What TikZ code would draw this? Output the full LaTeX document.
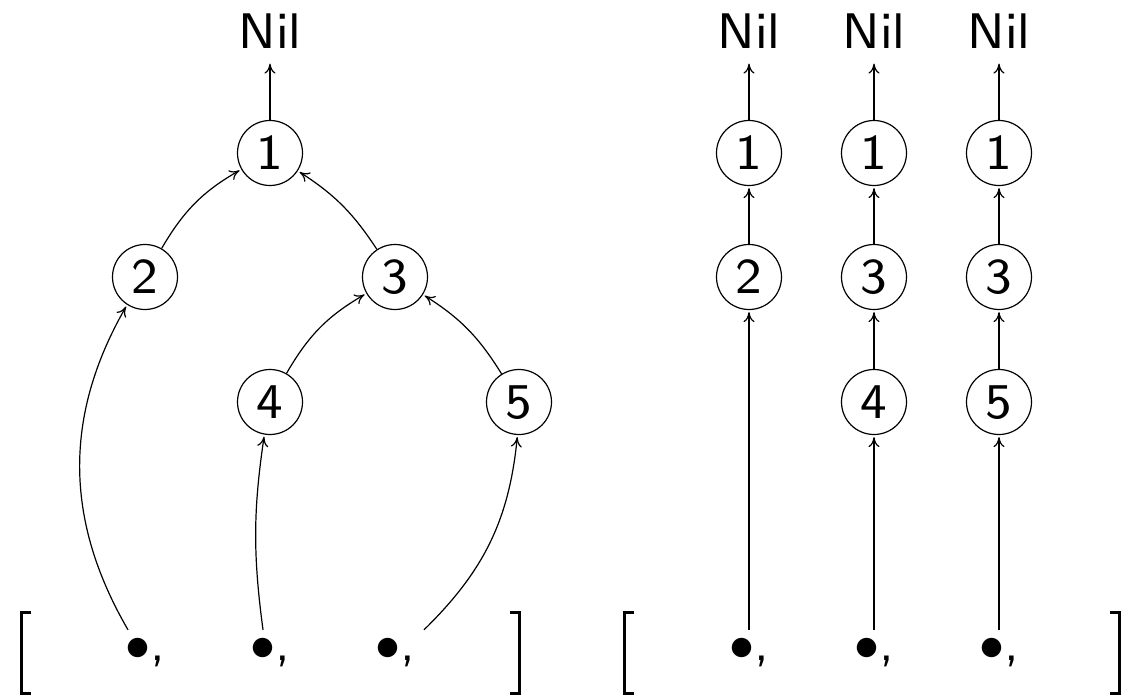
\documentclass[tikz,border=0pt]{standalone}
\usetikzlibrary{arrows.meta}
\font\bigsf=cmss8 at 50pt
\font\bigsy=cmsy10 at 50pt
\newcommand{\bul}{{\bigsy\char"0F}}
\begin{document}
\begin{tikzpicture}[x=1pt,y=-1pt,
  every node/.style={font=\bigsf},
  vtx/.style={circle,draw,line width=1.2pt,minimum size=65pt,inner sep=0pt},
  nil/.style={inner xsep=0pt,inner ysep=13pt},
  lst/.style={inner sep=0pt,text height=30pt,text depth=12pt,anchor=base},
  edge/.style={line width=1.2pt,-{Computer Modern Rightarrow[length=10pt,width=11pt]},shorten >=2pt},
  brk/.style={line width=3pt}]
\useasboundingbox (0,0) rectangle (1136,698);
% left tree
\node[nil] (nl) at (270,31) {Nil};
\node[vtx] (l1) at (270,153) {1};
\node[vtx] (l2) at (145,277) {2};
\node[vtx] (l3) at (395,277) {3};
\node[vtx] (l4) at (270,402) {4};
\node[vtx] (l5) at (519,402) {5};
\node[lst] (lb1) at (145,660) {\bul,};
\node[lst] (lb2) at (270,660) {\bul,};
\node[lst] (lb3) at (395,660) {\bul,};
\draw[edge] (l1) -- (nl);
\draw[edge] (l2) to[bend left=15] (l1);
\draw[edge] (l3) to[bend right=12] (l1);
\draw[edge] (l4) to[bend left=15] (l3);
\draw[edge] (l5) to[bend right=13] (l3);
\draw[edge] ([xshift=-17pt]lb1.north) to[bend left=30] (l2);
\draw[edge] ([xshift=-7pt]lb2.north) to[bend left=8] (l4);
\draw[edge] ([xshift=29pt]lb3.north) to[bend right=20] (l5);
\draw[brk] (31,612) -- (21.5,612) -- (21.5,693) -- (31,693);
\draw[brk] (510,612) -- (519.5,612) -- (519.5,693) -- (510,693);
% right chains
\node[nil] (na) at (749,31) {Nil};
\node[nil] (nb) at (874,31) {Nil};
\node[nil] (nc) at (999,31) {Nil};
\node[vtx] (a1) at (749,153) {1};
\node[vtx] (a2) at (749,277) {2};
\node[vtx] (b1) at (874,153) {1};
\node[vtx] (b3) at (874,277) {3};
\node[vtx] (b4) at (874,402) {4};
\node[vtx] (c1) at (999,153) {1};
\node[vtx] (c3) at (999,277) {3};
\node[vtx] (c5) at (999,402) {5};
\node[lst] (rb1) at (749,660) {\bul,};
\node[lst] (rb2) at (874,660) {\bul,};
\node[lst] (rb3) at (999,660) {\bul,};
\draw[edge] (a1) -- (na);
\draw[edge] (a2) -- (a1);
\draw[edge] (rb1.north) -- (a2);
\draw[edge] (b1) -- (nb);
\draw[edge] (b3) -- (b1);
\draw[edge] (b4) -- (b3);
\draw[edge] (rb2.north) -- (b4);
\draw[edge] (c1) -- (nc);
\draw[edge] (c3) -- (c1);
\draw[edge] (c5) -- (c3);
\draw[edge] (rb3.north) -- (c5);
\draw[brk] (634,612) -- (624.5,612) -- (624.5,693) -- (634,693);
\draw[brk] (1110,612) -- (1119.5,612) -- (1119.5,693) -- (1110,693);
\end{tikzpicture}
\end{document}
